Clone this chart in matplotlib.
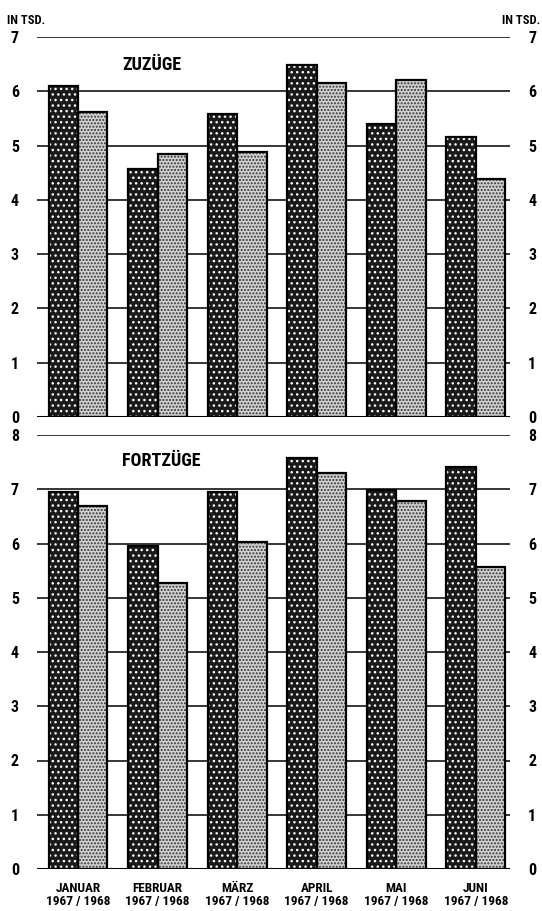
import numpy as np
import matplotlib.pyplot as plt

plt.rcParams['font.family'] = ['Roboto Condensed', 'Liberation Sans Narrow', 'Roboto', 'DejaVu Sans']
plt.rcParams['font.weight'] = 'bold'
plt.rcParams['hatch.linewidth'] = 1.0

# Monate und Werte (in Tsd.), jeweils 1967 / 1968
monate = ['JANUAR', 'FEBRUAR', 'MÄRZ', 'APRIL', 'MAI', 'JUNI']
jahre = '1967 / 1968'

zuzuege_1967 = [6.09, 4.57, 5.59, 6.49, 5.39, 5.15]
zuzuege_1968 = [5.61, 4.85, 4.88, 6.15, 6.21, 4.39]

fortzuege_1967 = [6.95, 5.96, 6.95, 7.58, 6.99, 7.41]
fortzuege_1968 = [6.69, 5.28, 6.03, 7.30, 6.78, 5.57]

W, H = 542, 911
fig = plt.figure(figsize=(W / 100, H / 100), dpi=100)


def px_axes(left, top, right, bottom):
    return fig.add_axes([left / W, 1 - bottom / H, (right - left) / W, (bottom - top) / H])


def panel(ax, werte_a, werte_b, ymax, titel, titel_xy):
    x = np.arange(len(monate))
    bw = 0.37
    # Gitterlinien hinter den Säulen
    for y in range(1, ymax + 1):
        ax.axhline(y, color='black', lw=1.1, zorder=0)
    ax.axhline(0, color='black', lw=2.2, zorder=3)
    # dunkle Säulen (1967): schwarz mit weißem Punktraster
    ax.bar(x - bw / 2, werte_a, bw, color='#1a1a1a', hatch='...', edgecolor='white', lw=0, zorder=1)
    ax.bar(x - bw / 2, werte_a, bw, fill=False, edgecolor='black', lw=1.6, zorder=2)
    # helle Säulen (1968): weiß mit feinem schwarzen Raster
    ax.bar(x + bw / 2, werte_b, bw, color='#d2d2d2', hatch='.....', edgecolor='#333333', lw=0, zorder=1)
    ax.bar(x + bw / 2, werte_b, bw, fill=False, edgecolor='black', lw=1.6, zorder=2)

    ax.set_xlim(-0.515, 5.43)
    ax.set_ylim(0, ymax)
    ax.set_yticks(range(ymax + 1))
    ax.tick_params(axis='y', length=0, pad=13, labelsize=11.5, labelright=True)
    for s in ax.spines.values():
        s.set_visible(False)
    ax.text(titel_xy[0], titel_xy[1], titel, fontsize=13, fontweight='bold',
            ha='center', va='center', transform=ax.transData)


ax1 = px_axes(37, 37, 510, 417)
panel(ax1, zuzuege_1967, zuzuege_1968, 7, 'ZUZÜGE', (0.93, 6.48))
ax1.set_xticks([])

ax2 = px_axes(37, 435, 510, 869)
panel(ax2, fortzuege_1967, fortzuege_1968, 8, 'FORTZÜGE', (1.05, 7.52))
ax2.set_xticks(range(len(monate)))
ax2.set_xticklabels([m + '\n' + jahre for m in monate], fontsize=9.5, linespacing=1.1)
ax2.tick_params(axis='x', length=0, pad=9)

fig.text(7 / W, 1 - 21 / H, 'IN TSD.', fontsize=9, fontweight='bold', ha='left', va='center')
fig.text(540 / W, 1 - 21 / H, 'IN TSD.', fontsize=9, fontweight='bold', ha='right', va='center')

fig.savefig('out.png', dpi=100)
